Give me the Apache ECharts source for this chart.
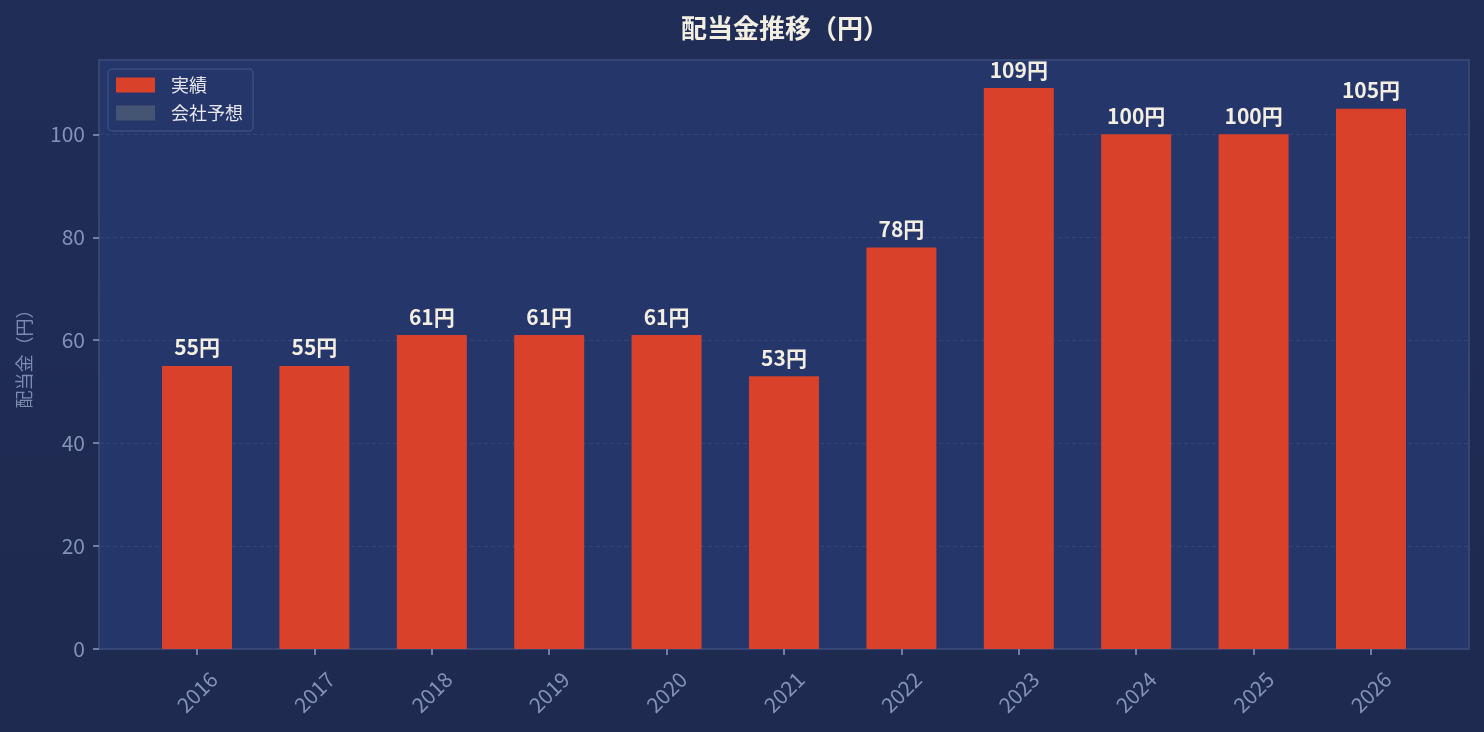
<!DOCTYPE html>
<html style="height: 100%">
<head>
    <meta charset="utf-8">
</head>
<body style="height: 100%; margin: 0">
<div id="container" style="height: 100%"></div>

<script type="text/javascript" src="https://cdn.jsdelivr.net/npm/echarts@6/dist/echarts.min.js"></script>
<script type="text/javascript">
    var years = ['2016', '2017', '2018', '2019', '2020', '2021', '2022', '2023', '2024', '2025', '2026'];
    var actual = [55, 55, 61, 61, 61, 53, 78, 109, 100, 100, 105];
    var forecast = [];
    var yTicks = [0, 20, 40, 60, 80, 100];

    var font = '"Noto Sans CJK JP", "Noto Sans", sans-serif';
    var dom = document.getElementById("container");
    var myChart = echarts.init(dom);
    var option;

    var positions = years.map(function (y, i) { return i; });

    option = {
        backgroundColor: new echarts.graphic.LinearGradient(0, 0, 0, 1, [
            {offset: 0, color: '#202d56'},
            {offset: 1, color: '#1e2a4f'}
        ]),
        textStyle: {fontFamily: font},
        title: {
            text: '配当金推移（円）',
            left: 676,
            top: 10,
            textStyle: {color: '#f3eee2', fontSize: 26, fontWeight: 'bold', fontFamily: font}
        },
        legend: {
            orient: 'vertical',
            left: 108,
            top: 69,
            padding: [7, 10, 9, 8],
            itemGap: 10,
            itemWidth: 39,
            itemHeight: 15,
            icon: 'rect',
            backgroundColor: '#25366a',
            borderColor: '#3c4d7c',
            borderWidth: 1.5,
            borderRadius: 4,
            textStyle: {color: '#e6e6ea', fontSize: 18, lineHeight: 18, padding: [0, 0, 0, 11], fontFamily: font},
            data: ['実績', '会社予想']
        },
        grid: {
            left: 99,
            top: 60,
            width: 1370,
            height: 589,
            show: true,
            backgroundColor: '#25366a',
            borderColor: '#3c4d7a',
            borderWidth: 1.5,
            containLabel: false
        },
        xAxis: {
            type: 'value',
            min: -0.835,
            max: 10.835,
            splitLine: {show: false},
            axisLine: {show: false, onZero: false},
            axisTick: {
                show: true,
                customValues: positions,
                length: 6,
                lineStyle: {color: '#8a9bbd', width: 1.5}
            },
            axisLabel: {
                customValues: positions,
                rotate: 45,
                align: 'center',
                verticalAlign: 'middle',
                margin: 43,
                color: '#8393b8',
                fontSize: 21,
                fontFamily: font,
                formatter: function (v) { return years[Math.round(v)]; }
            }
        },
        yAxis: {
            type: 'value',
            min: 0,
            max: 114.45,
            name: '配当金（円）',
            nameLocation: 'middle',
            nameGap: 66,
            nameTextStyle: {color: '#7b8bb0', fontSize: 18, fontFamily: font},
            axisLine: {show: false, onZero: false},
            axisTick: {
                show: true,
                customValues: yTicks,
                length: 6,
                lineStyle: {color: '#8a9bbd', width: 1.5}
            },
            axisLabel: {
                customValues: yTicks,
                color: '#8393b8',
                fontSize: 21,
                margin: 14,
                fontFamily: font
            },
            splitLine: {
                show: true,
                lineStyle: {color: '#33457a', type: [4, 3], width: 1}
            }
        },
        series: [
            {
                name: '実績',
                type: 'bar',
                barWidth: 70,
                barGap: '-100%',
                itemStyle: {color: '#d9412a'},
                data: actual.map(function (v, i) { return [i, v]; }),
                label: {
                    show: true,
                    position: 'top',
                    distance: 8,
                    color: '#f3eee2',
                    fontSize: 21,
                    fontWeight: 'bold',
                    fontFamily: font,
                    formatter: function (p) { return p.value[1] + '円'; }
                }
            },
            {
                name: '会社予想',
                type: 'bar',
                barWidth: 70,
                barGap: '-100%',
                itemStyle: {color: '#445573'},
                data: forecast
            }
        ]
    };

    if (option && typeof option === 'object') {
        myChart.setOption(option);
    }
</script>
</body>
</html>
